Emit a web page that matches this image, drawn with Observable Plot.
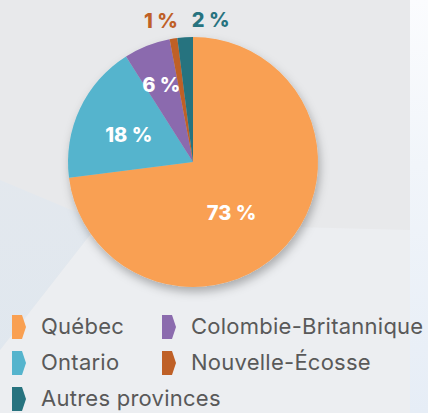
<!DOCTYPE html>
<html>
<head>
<meta charset="utf-8">
<script src="https://cdn.jsdelivr.net/npm/d3@7"></script>
<script src="https://cdn.jsdelivr.net/npm/@observablehq/plot@0.6"></script>
<style>
  html, body { margin: 0; padding: 0; }
  body { width: 428px; height: 413px; overflow: hidden; background: #e8e9eb; position: relative; font-family: Inter, "Open Sans", sans-serif; }
  .deco-light { position: absolute; left: 0; top: 0; width: 428px; height: 413px;
    background: #eceef1; clip-path: polygon(0 413px, 0 350px, 100px 222px, 410px 230px, 410px 413px); }
  .deco-left { position: absolute; left: 0; top: 0; width: 428px; height: 413px;
    background: linear-gradient(180deg, #e6e9ed 0%, #dfe7ef 100%); clip-path: polygon(0 180px, 100px 222px, 0 350px); }
  .deco-right { position: absolute; left: 410px; top: 0; width: 18px; height: 413px;
    background: linear-gradient(180deg, #fbfcfe 0%, #f1f5fa 40%, #e6edf6 100%); }
  #chart { position: absolute; left: 0; top: 0; }
  #legend { position: absolute; left: 12px; top: 309px; display: grid;
    grid-template-columns: 150px auto; grid-template-rows: repeat(3, 36px); grid-auto-flow: row; }
  .item { display: flex; align-items: center; font-size: 22px; letter-spacing: 0.25px; color: #595959; white-space: nowrap; line-height: 26px; }
  .item svg { margin-right: 15px; flex: none; }
  .item span { position: relative; top: -1px; }
</style>
</head>
<body>
<div class="deco-light"></div>
<div class="deco-left"></div>
<div class="deco-right"></div>
<div id="chart"></div>
<div id="legend"></div>
<script>
// ---- data ----
const provinces = ["Québec", "Ontario", "Colombie-Britannique", "Nouvelle-Écosse", "Autres provinces"];
const shares = [73, 18, 6, 1, 2];
const shareLabels = ["73 %", "18 %", "6 %", "1 %", "2 %"];
const colors = ["#f9a052", "#55b4cd", "#8b6bae", "#bf6027", "#27737f"];
const outside = [false, false, false, true, true];
const legendOrder = ["Québec", "Colombie-Britannique", "Ontario", "Nouvelle-Écosse", "Autres provinces"];

// ---- layout (label placement, polar) ----
const labelRadius = [0.51, 0.56, 0.67, 1.16, 1.14];
const labelShiftDeg = [12, -3, -1, -4, 10.5];

const data = provinces.map((p, i) => ({province: p, value: shares[i], label: shareLabels[i], outside: outside[i]}));
const arcs = d3.pie().sort(null).value(d => d.value)(data);
const labelData = arcs.map((a, i) => {
  const ang = (a.startAngle + a.endAngle) / 2 + labelShiftDeg[i] * Math.PI / 180;
  return {...a.data, x: Math.sin(ang) * labelRadius[i], y: Math.cos(ang) * labelRadius[i]};
});

function pieMark(index, scales) {
  const cx = scales.x(0), cy = scales.y(0), r = scales.x(1) - cx;
  const color = scales.color || d3.scaleOrdinal(provinces, colors);
  const g = d3.create("svg:g");
  const defs = g.append("defs");
  const f = defs.append("filter").attr("id", "pieShadow").attr("x", "-20%").attr("y", "-20%").attr("width", "140%").attr("height", "140%");
  f.append("feDropShadow").attr("dx", 2).attr("dy", 5).attr("stdDeviation", 5)
    .attr("flood-color", "#000").attr("flood-opacity", 0.28);
  const arc = d3.arc().innerRadius(0).outerRadius(r);
  const pg = g.append("g").attr("transform", `translate(${cx},${cy})`).attr("filter", "url(#pieShadow)");
  pg.selectAll("path").data(arcs).join("path").attr("d", arc).attr("fill", d => color(d.data.province));
  return g.node();
}

const labelFont = {fontSize: 20, fontWeight: 800, fontFamily: "Inter, 'Open Sans', sans-serif"};
const chart = Plot.plot({
  width: 428,
  height: 300,
  margin: 0,
  style: {background: "transparent", overflow: "visible"},
  x: {domain: [-1, 1], range: [68, 318], axis: null},
  y: {domain: [-1, 1], range: [287, 37], axis: null},
  color: {domain: provinces, range: colors},
  marks: [
    pieMark,
    Plot.text(labelData.filter(d => !d.outside), {x: "x", y: "y", text: "label", fill: "white", ...labelFont}),
    Plot.text(labelData.filter(d => d.outside), {x: "x", y: "y", text: "label", fill: "province", ...labelFont})
  ]
});
document.getElementById("chart").appendChild(chart);

// ---- legend ----
const legend = d3.select("#legend");
legendOrder.forEach(p => {
  const c = colors[provinces.indexOf(p)];
  const item = legend.append("div").attr("class", "item");
  const s = item.append("svg").attr("width", 14).attr("height", 24);
  s.append("path").attr("d", "M0,0H10L14,12L10,24H0Z").attr("fill", c);
  item.append("span").text(p);
});
</script>
</body>
</html>
